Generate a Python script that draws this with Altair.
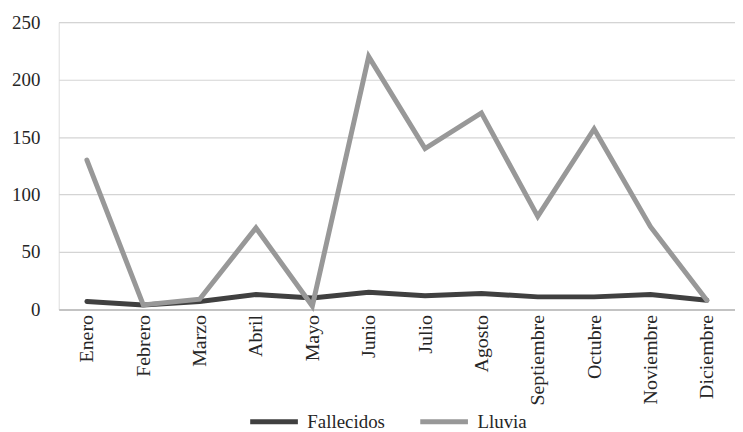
import altair as alt
import pandas as pd

meses = ["Enero", "Febrero", "Marzo", "Abril", "Mayo", "Junio", "Julio",
         "Agosto", "Septiembre", "Octubre", "Noviembre", "Diciembre"]
fallecidos = [7, 4, 7, 13, 10, 15, 12, 14, 11, 11, 13, 8]
lluvia = [130, 4, 9, 71, 3, 220, 140, 171, 81, 157, 72, 8]
series = ["Fallecidos", "Lluvia"]

rows = []
for s, vals in zip(series, [fallecidos, lluvia]):
    for i, (m, v) in enumerate(zip(meses, vals)):
        rows.append({"mes": m, "valor": v, "serie": s, "orden": i})
df = pd.DataFrame(rows)

FONT = "Liberation Serif, serif"

chart = alt.Chart(df).mark_line(strokeWidth=5, strokeCap="round").encode(
    x=alt.X("mes:N", sort=meses, title=None,
            scale=alt.Scale(paddingInner=0, paddingOuter=0.5),
            axis=alt.Axis(labelAngle=-90, ticks=False, domainColor="#a6a6a6",
                          domainWidth=1.2, labelPadding=5, labelFont=FONT,
                          labelFontSize=20, labelColor="#262626", grid=False)),
    y=alt.Y("valor:Q", title=None,
            scale=alt.Scale(domain=[0, 250], nice=False),
            axis=alt.Axis(values=[0, 50, 100, 150, 200, 250], ticks=False,
                          domain=False, gridColor="#d4d4d4", gridWidth=1.2,
                          labelPadding=19, labelFont=FONT, labelFontSize=19,
                          labelColor="#262626")),
    color=alt.Color("serie:N", title=None,
                    scale=alt.Scale(domain=series, range=["#404040", "#989898"]),
                    legend=alt.Legend(orient="none", legendX=190, legendY=375,
                                      direction="horizontal", symbolType="stroke",
                                      symbolSize=2300, symbolStrokeWidth=5,
                                      labelFont=FONT, labelFontSize=19,
                                      labelColor="#262626", labelOffset=7,
                                      columnPadding=24)),
    order="orden:Q",
).properties(
    width=680, height=289,
    autosize=alt.AutoSizeParams(type="none"),
    padding={"left": 51, "top": 13, "right": 0, "bottom": 125},
).configure_view(stroke=None).configure(font=FONT).configure_legend(
    labelFont=FONT, labelFontSize=19
)

chart.save("out.html", embed_options={"renderer": "svg", "actions": False})
